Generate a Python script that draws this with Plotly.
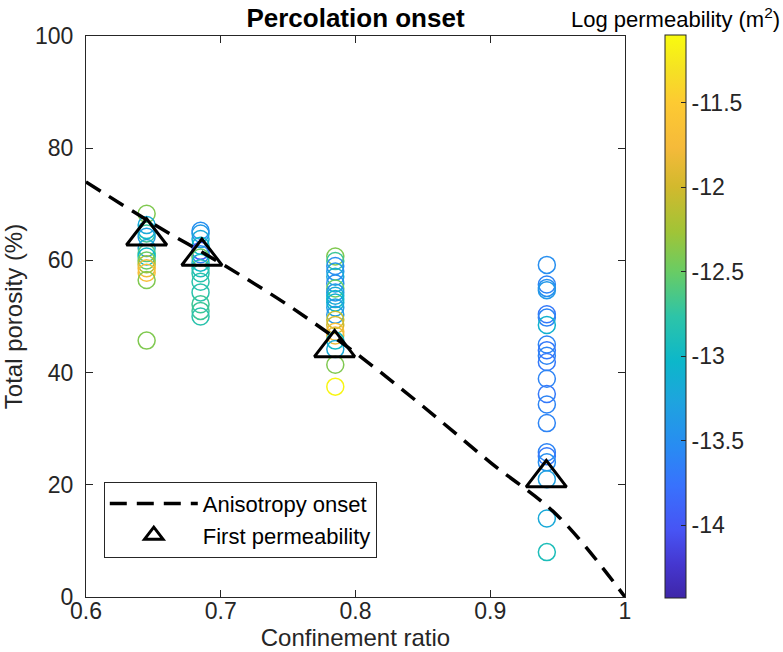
import plotly.graph_objects as go

# ---- data ----
group_ratio = [0.645, 0.685, 0.785, 0.942]

porosity_g1 = [68.3, 66.3, 65.4, 64.8, 64.2, 62.2, 61.3, 60.7, 60.0, 59.3, 58.6, 57.8, 56.5, 45.7]
logk_g1 = [-12.4, -13.2, -13.0, -12.7, -13.3, -13.2, -12.6, -13.0, -12.5, -12.2, -11.8, -11.7, -12.4, -12.4]

porosity_g2 = [65.3, 64.8, 63.8, 62.6, 61.7, 61.1, 60.5, 59.6, 58.6, 57.7, 56.2, 54.3, 52.2, 51.0, 50.0]
logk_g2 = [-13.5, -13.4, -13.2, -13.0, -14.0, -13.6, -12.5, -13.0, -12.9, -12.8, -12.8, -12.8, -12.7, -12.7, -12.8]

porosity_g3 = [60.7, 59.9, 59.0, 58.0, 57.1, 55.9, 55.0, 54.3, 53.7, 53.1, 52.5, 51.6, 50.3, 49.4, 48.5,
               47.3, 46.6, 45.7, 44.2, 41.4, 37.5]
logk_g3 = [-12.4, -12.7, -13.5, -13.4, -13.2, -13.5, -12.5, -13.4, -13.2, -13.0, -13.1, -13.3, -13.4, -12.1, -12.0,
           -11.7, -11.8, -13.0, -13.2, -12.4, -11.15]

porosity_g4 = [59.2, 55.7, 55.1, 54.7, 50.4, 49.8, 48.5, 45.0, 44.0, 43.0, 41.9, 38.9, 36.2, 34.3, 31.0,
               25.8, 25.1, 24.0, 21.0, 14.0, 8.0]
logk_g4 = [-13.5, -13.6, -13.5, -13.4, -13.7, -13.6, -13.1, -13.6, -13.7, -13.6, -13.7, -13.6, -13.7, -13.6, -13.6,
           -13.6, -13.7, -13.5, -13.3, -13.2, -12.9]

first_perm_ratio = [0.645, 0.686, 0.7845, 0.9416]
first_perm_porosity = [64.3, 60.7, 44.4, 21.2]

onset_ratio = [0.60, 0.65, 0.70, 0.75, 0.80, 0.85, 0.90, 0.95, 1.00]
onset_porosity = [74.0, 66.5, 59.5, 52.0, 43.5, 34.0, 24.0, 14.5, 0.0]

cbar_ticks = [-14, -13.5, -13, -12.5, -12, -11.5]
cbar_ticktext = ["-14", "-13.5", "-13", "-12.5", "-12", "-11.5"]
x_ticks = [0.6, 0.7, 0.8, 0.9, 1.0]
x_ticktext = ["0.6", "0.7", "0.8", "0.9", "1"]
y_ticks = [0, 20, 40, 60, 80, 100]

# ---- assemble ----
por_groups = [porosity_g1, porosity_g2, porosity_g3, porosity_g4]
k_groups = [logk_g1, logk_g2, logk_g3, logk_g4]
xs, ys, cs = [], [], []
for r, p, k in zip(group_ratio, por_groups, k_groups):
    xs += [r] * len(p)
    ys += p
    cs += k

parula = [
    [0.00, "rgb(62,38,168)"],
    [0.06, "rgb(69,55,208)"],
    [0.12, "rgb(71,84,244)"],
    [0.20, "rgb(56,114,253)"],
    [0.27, "rgb(40,140,242)"],
    [0.35, "rgb(30,164,222)"],
    [0.42, "rgb(12,183,202)"],
    [0.50, "rgb(45,196,168)"],
    [0.58, "rgb(105,204,100)"],
    [0.65, "rgb(160,196,55)"],
    [0.73, "rgb(210,185,45)"],
    [0.80, "rgb(245,186,58)"],
    [0.88, "rgb(253,202,50)"],
    [0.94, "rgb(245,226,35)"],
    [1.00, "rgb(249,251,14)"],
]

FONT = "Liberation Sans, Arial, sans-serif"
AX = "#262626"

fig = go.Figure()

fig.add_trace(go.Scatter(
    x=xs, y=ys, mode="markers", showlegend=False,
    marker=dict(symbol="circle-open", size=17, color=cs, colorscale=parula,
                cmin=-14.43, cmax=-11.10, line=dict(width=1.5),
                colorbar=dict(
                    x=1.074, xanchor="left", xref="paper",
                    y=0.5, yanchor="middle", lenmode="pixels", len=563,
                    thickness=21, thicknessmode="pixels",
                    outlinecolor=AX, outlinewidth=1,
                    tickvals=cbar_ticks, ticktext=cbar_ticktext,
                    ticks="inside", ticklen=5, tickcolor=AX,
                    tickfont=dict(family=FONT, size=23, color=AX),
                    ypad=0, xpad=0,
                )),
))

fig.add_trace(go.Scatter(
    x=onset_ratio, y=onset_porosity, mode="lines", name="Anisotropy onset",
    line=dict(color="black", width=3.5, dash="17px,10px", shape="spline"),
))

fig.add_trace(go.Scatter(
    x=first_perm_ratio, y=first_perm_porosity, mode="markers", name="First permeability",
    marker=dict(symbol="triangle-up-open", size=35, color="black", line=dict(width=3)),
))

fig.update_layout(
    width=783, height=652,
    margin=dict(l=86, r=158, t=36, b=55, autoexpand=False),
    paper_bgcolor="white", plot_bgcolor="white",
    font=dict(family=FONT, size=23, color=AX),
    title=dict(text="<b>Percolation onset</b>", x=0.5, xref="paper", xanchor="center",
               y=1 - 18 / 652, yref="container", yanchor="middle",
               font=dict(family=FONT, size=26, color="black")),
    legend=dict(x=0.033, y=0.07, xanchor="left", yanchor="bottom",
                bordercolor=AX, borderwidth=1, bgcolor="white",
                font=dict(family=FONT, size=22, color="black"),
                itemwidth=88, tracegroupgap=0),
    annotations=[dict(text="Log permeability (m<sup>2</sup>)", xref="paper", yref="paper",
                      x=(675 - 86) / 539, y=1 + 18 / 561, xanchor="center", yanchor="middle",
                      showarrow=False, font=dict(family=FONT, size=22, color="black"))],
)

fig.update_xaxes(range=[0.6, 1.0], tickvals=x_ticks, ticktext=x_ticktext, automargin=False,
                 showline=True, linecolor=AX, linewidth=1, mirror="ticks",
                 ticks="inside", ticklen=7, tickcolor=AX, showgrid=False, zeroline=False,
                 tickfont=dict(size=23, color=AX), ticklabelstandoff=-7,
                 title=dict(text="Confinement ratio", standoff=1, font=dict(size=24, color=AX)))
fig.update_yaxes(range=[0, 100], tickvals=y_ticks, automargin=False,
                 showline=True, linecolor=AX, linewidth=1, mirror="ticks",
                 ticks="inside", ticklen=7, tickcolor=AX, showgrid=False, zeroline=False,
                 tickfont=dict(size=23, color=AX), ticklabelstandoff=7,
                 title=dict(text="Total porosity (%)", standoff=7, font=dict(size=24, color=AX)))

fig.write_html("out.html")
